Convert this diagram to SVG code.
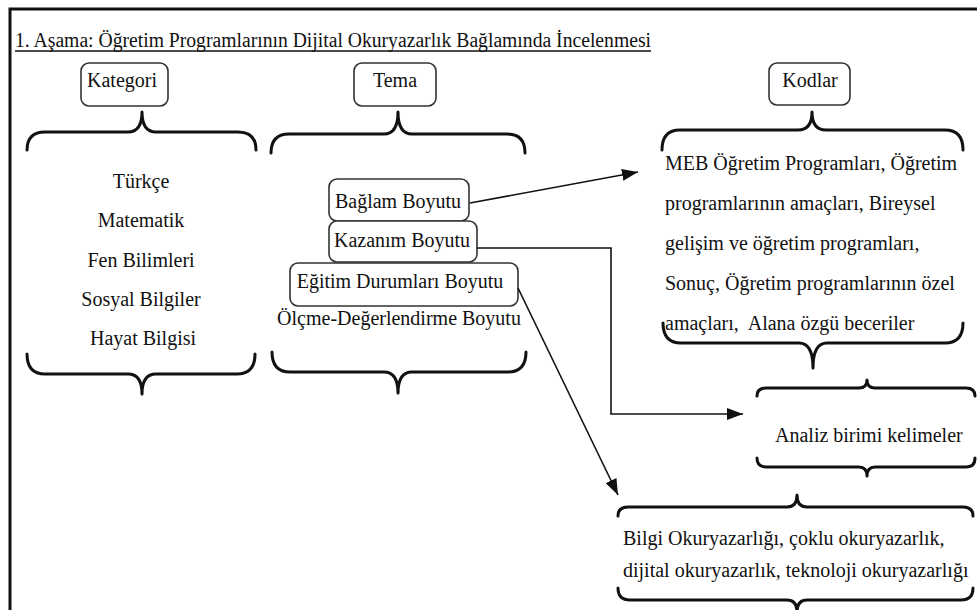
<svg xmlns="http://www.w3.org/2000/svg" width="977" height="610" viewBox="0 0 977 610">
<style>
text{font-family:"Liberation Serif","Times New Roman",serif;font-size:20px;fill:#111}
.c{text-anchor:middle}
.box{fill:#fff;stroke:#333;stroke-width:1.6}
.brace{fill:none;stroke:#111;stroke-width:3;stroke-linecap:round;stroke-linejoin:round}
.con{fill:none;stroke:#111;stroke-width:1.6}
</style>
<defs>
<marker id="ah" viewBox="0 0 16 12" refX="16" refY="6" markerWidth="16" markerHeight="12" markerUnits="userSpaceOnUse" orient="auto">
<path d="M0,0 L16,6 L0,12 Z" fill="#111"/>
</marker>
</defs>
<rect width="977" height="610" fill="#fff"/>
<g id="frame">
<path d="M10,610 L10,9 L977,9" fill="none" stroke="#111" stroke-width="3"/>
</g>
<g id="title">
<text x="15" y="47" textLength="636" lengthAdjust="spacingAndGlyphs">1. Aşama: Öğretim Programlarının Dijital Okuryazarlık Bağlamında İncelenmesi</text>
<line x1="15" y1="51" x2="651" y2="51" stroke="#111" stroke-width="1.5"/>
</g>
<g id="kategori">
<rect class="box" x="81" y="63" width="87" height="43" rx="8"/>
<text class="c" x="122" y="87">Kategori</text>
</g>
<g id="tema">
<rect class="box" x="354" y="63" width="82" height="43" rx="8"/>
<text class="c" x="395" y="87">Tema</text>
</g>
<g id="kodlar">
<rect class="box" x="769" y="63" width="81" height="42" rx="8"/>
<text class="c" x="810" y="87">Kodlar</text>
</g>
<g id="braces">
<path class="brace" d="M27,150 Q27,132 45,132 L128,132 Q142,132 142,112 Q142,132 156,132 L238,132 Q256,132 256,150"/>
<path class="brace" d="M271,153 Q271,134 289,134 L384,134 Q398,134 398,112 Q398,134 412,134 L507,134 Q525,134 525,153"/>
<path class="brace" d="M27,354 Q27,374 45,374 L128,374 Q142,374 142,394 Q142,374 156,374 L237,374 Q255,374 255,354"/>
<path class="brace" d="M272,352 Q272,372 290,372 L384,372 Q398,372 398,393 Q398,372 412,372 L508,372 Q526,372 526,352"/>
<path class="brace" d="M662,150 Q662,130 680,130 L798,130 Q812,130 812,112 Q812,130 826,130 L945,130 Q963,130 963,150"/>
<path class="brace" d="M663,323 Q663,343 681,343 L799,343 Q813,343 813,368 Q813,343 827,343 L945,343 Q963,343 963,323"/>
<path class="brace" d="M757,396 Q757,388 766,388 L859,388 Q867,388 867,380 Q867,388 875,388 L966,388 Q975,388 975,396"/>
<path class="brace" d="M757,458 Q757,467 766,467 L859,467 Q867,467 867,476 Q867,467 875,467 L966,467 Q975,467 975,458"/>
<path class="brace" d="M618,516 Q618,507 628,507 L787,507 Q797,507 797,495 Q797,507 807,507 L963,507 Q973,507 973,516"/>
<path class="brace" d="M618,588 Q618,600 630,600 L787,600 Q797,600 797,612 Q797,600 807,600 L961,600 Q973,600 973,588"/>
</g>
<g id="dersler">
<text class="c" x="141" y="188">Türkçe</text>
<text class="c" x="141" y="227">Matematik</text>
<text class="c" x="141" y="267">Fen Bilimleri</text>
<text class="c" x="141" y="306">Sosyal Bilgiler</text>
<text class="c" x="143" y="345">Hayat Bilgisi</text>
</g>
<g id="baglam">
<rect class="box" x="329" y="179" width="140" height="42" rx="8"/>
<text class="c" x="398" y="208">Bağlam Boyutu</text>
</g>
<g id="kazanim">
<rect class="box" x="329" y="221" width="148" height="41" rx="8"/>
<text class="c" x="402" y="247">Kazanım Boyutu</text>
</g>
<g id="egitim">
<rect class="box" x="290" y="263" width="228" height="43" rx="8"/>
<text class="c" x="400" y="288">Eğitim Durumları Boyutu</text>
</g>
<g id="olcme">
<text class="c" x="399" y="325">Ölçme-Değerlendirme Boyutu</text>
</g>
<g id="kodlar-metin">
<text x="665" y="170">MEB Öğretim Programları, Öğretim</text>
<text x="665" y="210">programlarının amaçları, Bireysel</text>
<text x="665" y="250">gelişim ve öğretim programları,</text>
<text x="665" y="290">Sonuç, Öğretim programlarının özel</text>
<text x="665" y="330" xml:space="preserve">amaçları,  Alana özgü beceriler</text>
</g>
<g id="analiz">
<text x="775" y="442">Analiz birimi kelimeler</text>
</g>
<g id="bilgi">
<text x="623" y="545">Bilgi Okuryazarlığı, çoklu okuryazarlık,</text>
<text x="623" y="577">dijital okuryazarlık, teknoloji okuryazarlığı</text>
</g>
<g id="connectors">
<line class="con" x1="470" y1="203" x2="638" y2="172" marker-end="url(#ah)"/>
<polyline class="con" points="477,248 611,248 611,414 743,414" marker-end="url(#ah)"/>
<line class="con" x1="518" y1="288" x2="618" y2="495" marker-end="url(#ah)"/>
</g>
</svg>
